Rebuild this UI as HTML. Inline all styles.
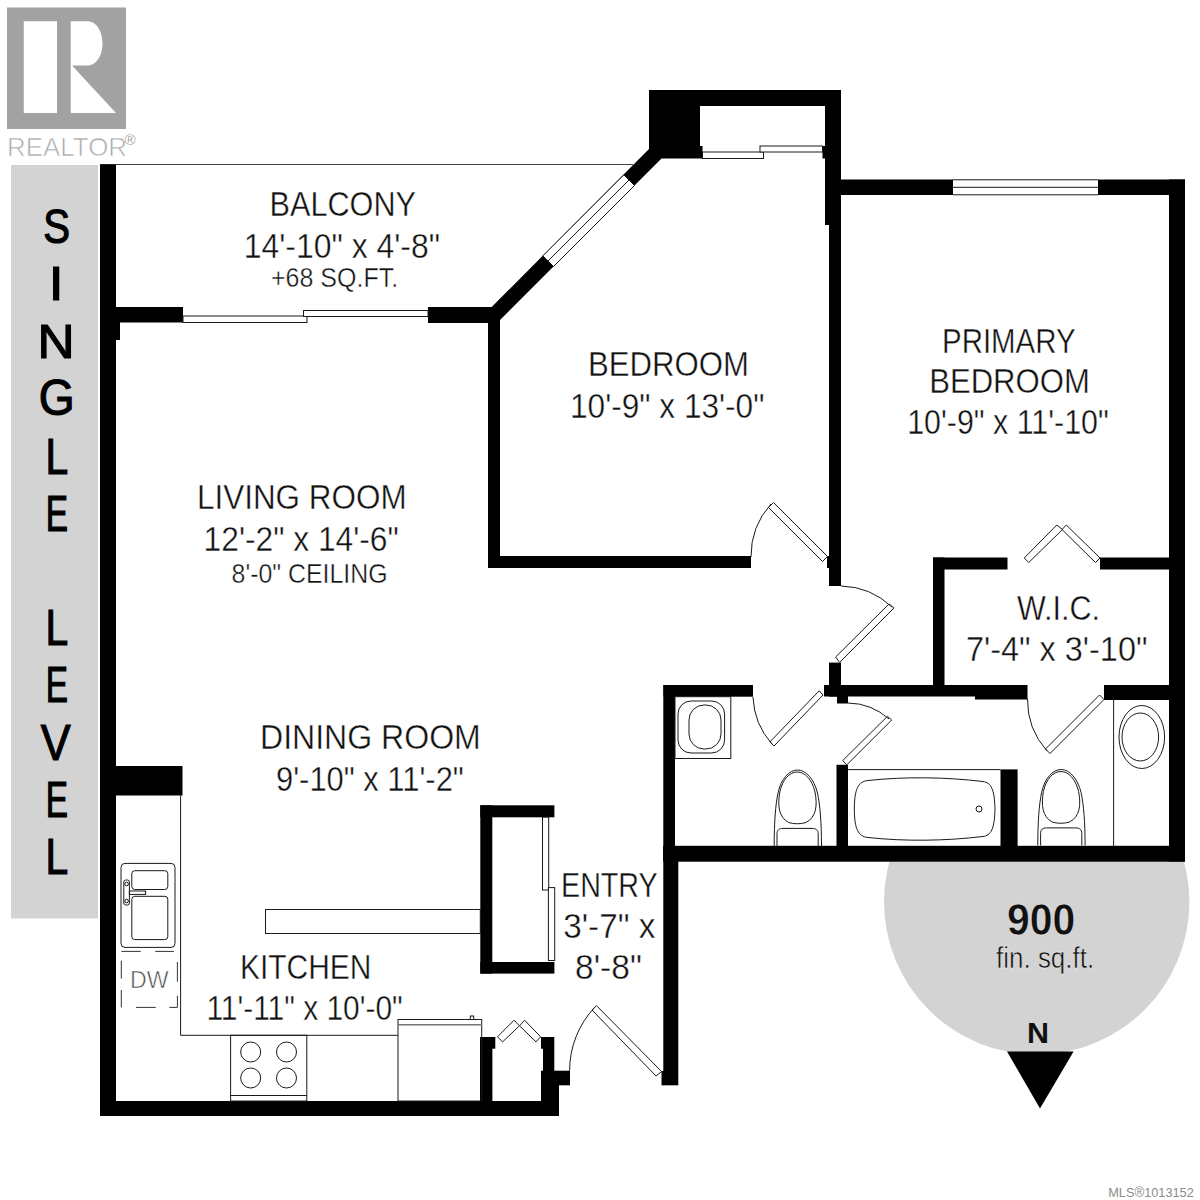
<!DOCTYPE html>
<html><head><meta charset="utf-8"><title>Floor plan</title>
<style>
html,body{margin:0;padding:0;background:#fff;width:1200px;height:1200px;overflow:hidden}
svg{display:block;position:absolute;left:0;top:0}
text{font-family:"Liberation Sans",sans-serif}
</style></head><body>
<svg width="1200" height="1200" viewBox="0 0 1200 1200">
<!-- REALTOR logo -->
<rect x="7" y="7.5" width="119" height="121.5" fill="#a2a2a2"/>
<rect x="23.75" y="21.25" width="33.25" height="91.75" fill="#fff"/>
<path d="M70.75,21.25 L87,21.25 C97,21.25 102.5,32 102.5,43.5 C102.5,55 97,65.5 87,65.5 L72,65.5 L116,113 L70.75,113 Z" fill="#fff"/>
<text x="7" y="155.5" font-size="26.5" fill="#a8a8a8" stroke="#fff" stroke-width="0.7" textLength="120" lengthAdjust="spacingAndGlyphs">REALTOR</text>
<text x="124.5" y="145" font-size="15" fill="#a8a8a8">®</text>

<!-- side panel -->
<rect x="11" y="165" width="87" height="753.5" fill="#d3d3d3"/>

<!-- sqft circle -->
<circle cx="1036.7" cy="901.8" r="152.7" fill="#d3d3d3"/>
<rect x="663" y="685" width="522" height="176" fill="#fff"/>
<polygon points="1007,1051.5 1073.6,1051.5 1040,1108.5" fill="#000"/>

<!-- balcony thin line -->
<line x1="100" y1="164.5" x2="633" y2="164.5" stroke="#444" stroke-width="1.1"/>

<!-- WALLS -->
<g fill="#000">
<rect x="100" y="164.5" width="16" height="951.5"/>
<rect x="116" y="322" width="4" height="18"/>
<rect x="116" y="307" width="67" height="15.5"/>
<rect x="428" y="307" width="64" height="16"/>
<polygon points="491.7,307 649,149 661.5,158.5 500,320 500,323 491.7,323"/>
<rect x="488" y="307" width="12" height="261"/>
<rect x="488" y="556" width="263" height="12"/>
<rect x="649" y="90" width="51" height="68.5"/>
<rect x="649" y="90" width="192" height="16"/>
<rect x="825" y="90" width="16" height="135"/>
<rect x="829" y="90" width="12" height="496"/>
<rect x="827" y="556" width="3" height="12"/>
<rect x="700" y="146" width="2.5" height="12.5"/>
<rect x="822.5" y="146" width="3" height="12.5"/>
<rect x="841" y="179.5" width="112" height="15.5"/>
<rect x="1098" y="179.5" width="87" height="15.5"/>
<rect x="1169" y="179.5" width="16" height="682"/>
<rect x="829" y="662.6" width="12" height="34"/>
<rect x="824" y="685" width="203" height="11.5"/>
<rect x="975" y="685" width="52.5" height="14.5"/>
<rect x="663.5" y="685" width="89.5" height="11.7"/>
<rect x="1104" y="685" width="81" height="15"/>
<rect x="837" y="696" width="11" height="7.5"/>
<rect x="933" y="557.5" width="74.5" height="12"/>
<rect x="1100" y="557.5" width="70" height="12"/>
<rect x="933" y="557.5" width="11.5" height="138.5"/>
<rect x="663.3" y="685" width="11.7" height="176"/>
<rect x="663.3" y="846" width="15" height="239.3"/>
<rect x="836.5" y="764.8" width="11.5" height="82"/>
<rect x="1000.5" y="769.4" width="17.1" height="77"/>
<rect x="663.3" y="845.8" width="521.7" height="15.9"/>
<rect x="100" y="1101" width="459" height="15"/>
<rect x="100" y="766" width="82.5" height="29.5"/>
<rect x="480.3" y="805.3" width="74.1" height="12"/>
<rect x="480.3" y="805.3" width="12" height="168.3"/>
<rect x="480.3" y="962" width="74.1" height="11.6"/>
<rect x="480" y="1037" width="12.4" height="64"/>
<rect x="480" y="1037" width="15.3" height="11.7"/>
<rect x="543" y="1037" width="11.3" height="79"/>
<rect x="541" y="1037" width="3" height="11.7"/>
<rect x="661.5" y="1071" width="3" height="14.3"/>
<rect x="541" y="1070.7" width="29" height="14.6"/>
<rect x="541" y="1085" width="18" height="31"/>
</g>

<!-- windows / sliders -->
<g fill="#fff" stroke="#1a1a1a" stroke-width="1">
<rect x="183" y="316" width="124" height="6.5"/>
<rect x="303.5" y="310.5" width="124.5" height="6"/>
<rect x="702.5" y="152" width="61" height="6.5"/>
<rect x="760" y="146" width="62.5" height="6"/>
<rect x="953" y="179.5" width="145" height="15.6" stroke="none"/>
<line x1="953" y1="179.8" x2="1098" y2="179.8"/>
<line x1="953" y1="187.3" x2="1098" y2="187.3"/>
<line x1="953" y1="194.8" x2="1098" y2="194.8"/>
<polygon points="542.85,255.85 623.85,174.85 634.5,185.5 553.5,266.5"/>
<line x1="548" y1="261" x2="629" y2="180"/>
<rect x="542.5" y="817.2" width="6.2" height="72.8"/>
<rect x="548.4" y="887.6" width="6.3" height="72.9"/>
</g>

<!-- doors -->
<g fill="#fff" stroke="#1a1a1a" stroke-width="1">
<polygon points="827.5,556.5 822.5,561.5 768.5,507.5 773.5,502.5"/>
<polygon points="835.6,657 839.6,662.4 894,608 889,604"/>
<polygon points="819.2,690.8 823,695 774,746 769.8,742"/>
<polygon points="842.7,760.6 846.9,764.8 891.7,720 887.5,716.25"/>
<polygon points="1099.5,695 1104,699.5 1050,753.5 1045.5,749"/>
<polygon points="661.6,1071.6 656,1076 592,1010 596.5,1005.6"/>
<polygon points="1024.25,558 1028.75,562.5 1062.5,529.5 1056.75,525"/>
<polygon points="1066.25,525 1100,558 1095.5,562.5 1062,529.5"/>
<polygon points="497.5,1036.75 502.6,1041.9 519.5,1025.75 514,1020.25"/>
<polygon points="519.5,1025.75 524.6,1020.25 540.6,1036.75 536,1041.9"/>
</g>
<g fill="none" stroke="#1a1a1a" stroke-width="1">
<path d="M771,504 A78,78 0 0 0 751,557"/>
<path d="M892,607 A77,77 0 0 0 841,586"/>
<path d="M772,744 A75,75 0 0 1 753,697"/>
<path d="M889,719 A63,63 0 0 0 848,703"/>
<path d="M1047,751 A77,77 0 0 1 1027.5,698.6"/>
<path d="M595,1007 A92.5,92.5 0 0 0 569.6,1070.7"/>
</g>

<!-- fixtures -->
<g fill="none" stroke="#1a1a1a" stroke-width="1">
<rect x="675" y="696.7" width="55.8" height="61.8"/>
<rect x="678" y="701" width="46.6" height="52" rx="13"/>
<rect x="689" y="705" width="32" height="44" rx="15"/>
<g id="toilet">
<path d="M774.2,846 C774.2,822 775.5,805 778,793 C781,779 789,770 797.6,770 C806,770 814,779 817.5,793 C820,805 821.5,822 821.5,846"/>
<path d="M797.3,772 C805,772 812,779.5 815,792 C817.5,805 816.5,817 806,822.5 C800.5,824.2 794,824.2 788.5,822.5 C778.5,817 777.5,805 779.8,792 C782.5,779.5 789.5,772 797.3,772 Z"/>
<path d="M777,846 V834 C777,830 779,828.4 783,828.4 H812 C816,828.4 818.2,830 818.2,834 V846"/>
</g>
<g transform="translate(263.6,-0.5)">
<path d="M774.2,846 C774.2,822 775.5,805 778,793 C781,779 789,770 797.6,770 C806,770 814,779 817.5,793 C820,805 821.5,822 821.5,846"/>
<path d="M797.3,772 C805,772 812,779.5 815,792 C817.5,805 816.5,817 806,822.5 C800.5,824.2 794,824.2 788.5,822.5 C778.5,817 777.5,805 779.8,792 C782.5,779.5 789.5,772 797.3,772 Z"/>
<path d="M777,846 V834 C777,830 779,828.4 783,828.4 H812 C816,828.4 818.2,830 818.2,834 V846"/>
</g>
<line x1="848" y1="769.6" x2="1000.5" y2="769.6"/>
<path d="M868,780.5 C905,776.5 945,777 983,781.5 C991,782.5 994.5,789 995,809 C994.5,829 991,835.5 983,836.5 C945,841 905,841.5 868,837.5 C858,836.5 854.5,829 854.3,809 C854.5,789 858,781.5 868,780.5 Z"/>
<circle cx="979" cy="809" r="3"/>
<line x1="1113.6" y1="697" x2="1113.6" y2="846"/>
<ellipse cx="1141.8" cy="737" rx="22.8" ry="31.5"/>
<ellipse cx="1140.3" cy="737" rx="18.3" ry="24"/>
<rect x="121" y="863.4" width="54" height="84" rx="4"/>
<rect x="131.8" y="870.7" width="36" height="18.8" rx="3"/>
<rect x="131.8" y="896.3" width="36" height="43.3" rx="3"/>
<rect x="123.8" y="880" width="5.6" height="25" rx="2"/>
<rect x="129.4" y="891" width="16.2" height="3.4"/>
<circle cx="126.6" cy="884" r="1.8"/>
<circle cx="126.6" cy="901" r="1.8"/>
<path d="M121.3,951.4 H140.7 M155.3,951.4 H173.9 M121.3,960.75 V978.5 M121.3,990 V1007.4 H121.3 M177.4,962 V981.75 M177.4,995.75 V1007.4 M136,1007.4 H155.8 M169.3,1007.4 H177.4" stroke="#333"/>
<path d="M180.6,795.5 V1035.3 H398"/>
<rect x="230.6" y="1035.3" width="76.2" height="65.7"/>
<line x1="230.6" y1="1095.5" x2="306.8" y2="1095.5"/>
<circle cx="250.7" cy="1052" r="10"/>
<circle cx="286.5" cy="1052" r="10"/>
<circle cx="250.7" cy="1078" r="10"/>
<circle cx="286.5" cy="1078" r="10"/>
<rect x="398" y="1019.5" width="83.7" height="81.5"/>
<line x1="398" y1="1024.8" x2="481.7" y2="1024.8" stroke="#777" stroke-width="1.6"/>
<rect x="470.3" y="1016" width="3.4" height="3.5"/>
<rect x="265.5" y="909.5" width="214.8" height="24"/>
</g>

<!-- TEXT -->
<g fill="#111" stroke="#fff" stroke-width="0.4">
<!--T0-->
<text x="269.60" y="216.40" font-size="34.5" textLength="146.40" lengthAdjust="spacingAndGlyphs">BALCONY</text>
<text x="243.80" y="257.60" font-size="34.5" textLength="196.20" lengthAdjust="spacingAndGlyphs">14'-10&quot; x 4'-8&quot;</text>
<text x="271.00" y="287.25" font-size="27" textLength="127.10" lengthAdjust="spacingAndGlyphs">+68 SQ.FT.</text>
<text x="588.00" y="376.40" font-size="34.5" textLength="161.00" lengthAdjust="spacingAndGlyphs">BEDROOM</text>
<text x="570.00" y="417.60" font-size="34.5" textLength="194.40" lengthAdjust="spacingAndGlyphs">10'-9&quot; x 13'-0&quot;</text>
<text x="942.00" y="352.60" font-size="34.5" textLength="133.60" lengthAdjust="spacingAndGlyphs">PRIMARY</text>
<text x="929.20" y="393.20" font-size="34.5" textLength="160.60" lengthAdjust="spacingAndGlyphs">BEDROOM</text>
<text x="907.20" y="434.00" font-size="34.5" textLength="201.60" lengthAdjust="spacingAndGlyphs">10'-9&quot; x 11'-10&quot;</text>
<text x="197.00" y="509.30" font-size="34.5" textLength="209.60" lengthAdjust="spacingAndGlyphs">LIVING ROOM</text>
<text x="203.60" y="550.50" font-size="34.5" textLength="195.20" lengthAdjust="spacingAndGlyphs">12'-2&quot; x 14'-6&quot;</text>
<text x="231.55" y="583.20" font-size="27.5" textLength="156.00" lengthAdjust="spacingAndGlyphs">8'-0&quot; CEILING</text>
<text x="260.00" y="749.00" font-size="34.5" textLength="220.80" lengthAdjust="spacingAndGlyphs">DINING ROOM</text>
<text x="276.00" y="791.00" font-size="34.5" textLength="187.80" lengthAdjust="spacingAndGlyphs">9'-10&quot; x 11'-2&quot;</text>
<text x="240.00" y="978.50" font-size="34.5" textLength="131.40" lengthAdjust="spacingAndGlyphs">KITCHEN</text>
<text x="206.40" y="1019.75" font-size="34.5" textLength="196.30" lengthAdjust="spacingAndGlyphs">11'-11&quot; x 10'-0&quot;</text>
<text x="561.00" y="897.40" font-size="34.5" textLength="96.70" lengthAdjust="spacingAndGlyphs">ENTRY</text>
<text x="563.20" y="938.00" font-size="34.5" textLength="92.20" lengthAdjust="spacingAndGlyphs">3'-7&quot; x</text>
<text x="575.00" y="979.10" font-size="34.5" textLength="66.80" lengthAdjust="spacingAndGlyphs">8'-8&quot;</text>
<text x="1017.00" y="620.00" font-size="34.5" textLength="83.00" lengthAdjust="spacingAndGlyphs">W.I.C.</text>
<text x="966.00" y="661.00" font-size="34.5" textLength="181.45" lengthAdjust="spacingAndGlyphs">7'-4&quot; x 3'-10&quot;</text>
<text x="1007.00" y="934.50" font-size="44.5" textLength="68.20" lengthAdjust="spacingAndGlyphs" font-weight="bold">900</text>
<text x="996.00" y="968.40" font-size="30" textLength="98.20" lengthAdjust="spacingAndGlyphs">fin. sq.ft.</text>
<text x="1027.00" y="1042.50" font-size="29.5" textLength="22.00" lengthAdjust="spacingAndGlyphs" font-weight="bold" stroke="none">N</text>
<!--T1-->
<text x="130" y="988" font-size="24.5" fill="#4a4a4a" stroke="#fff" stroke-width="0.6" textLength="38.5" lengthAdjust="spacingAndGlyphs">DW</text>
<text x="1108.2" y="1196.6" font-size="13.5" fill="#8c8c8c" stroke="none" textLength="85.6" lengthAdjust="spacingAndGlyphs">MLS<tspan font-size="14">®</tspan>1013152</text>
</g>
<g fill="#000" stroke="#000" stroke-width="1.2" text-anchor="middle">
<!--L0-->
<text transform="translate(56.55,242.60) scale(0.846,1)" font-size="47.53">S</text>
<text transform="translate(56.10,299.90) scale(1.097,1)" font-size="48.52">I</text>
<text transform="translate(55.95,357.80) scale(1.087,1)" font-size="47.22">N</text>
<text transform="translate(56.55,415.00) scale(0.928,1)" font-size="49.67">G</text>
<text transform="translate(56.75,474.00) scale(0.823,1)" font-size="49.59">L</text>
<text transform="translate(56.95,531.10) scale(0.673,1)" font-size="49.59">E</text>
<text transform="translate(56.75,645.00) scale(0.810,1)" font-size="50.38">L</text>
<text transform="translate(56.95,701.90) scale(0.662,1)" font-size="50.38">E</text>
<text transform="translate(55.55,760.00) scale(0.888,1)" font-size="50.38">V</text>
<text transform="translate(56.95,816.90) scale(0.678,1)" font-size="49.20">E</text>
<text transform="translate(56.75,874.00) scale(0.824,1)" font-size="49.55">L</text>
<!--L1-->
</g>
</svg>
</body></html>
